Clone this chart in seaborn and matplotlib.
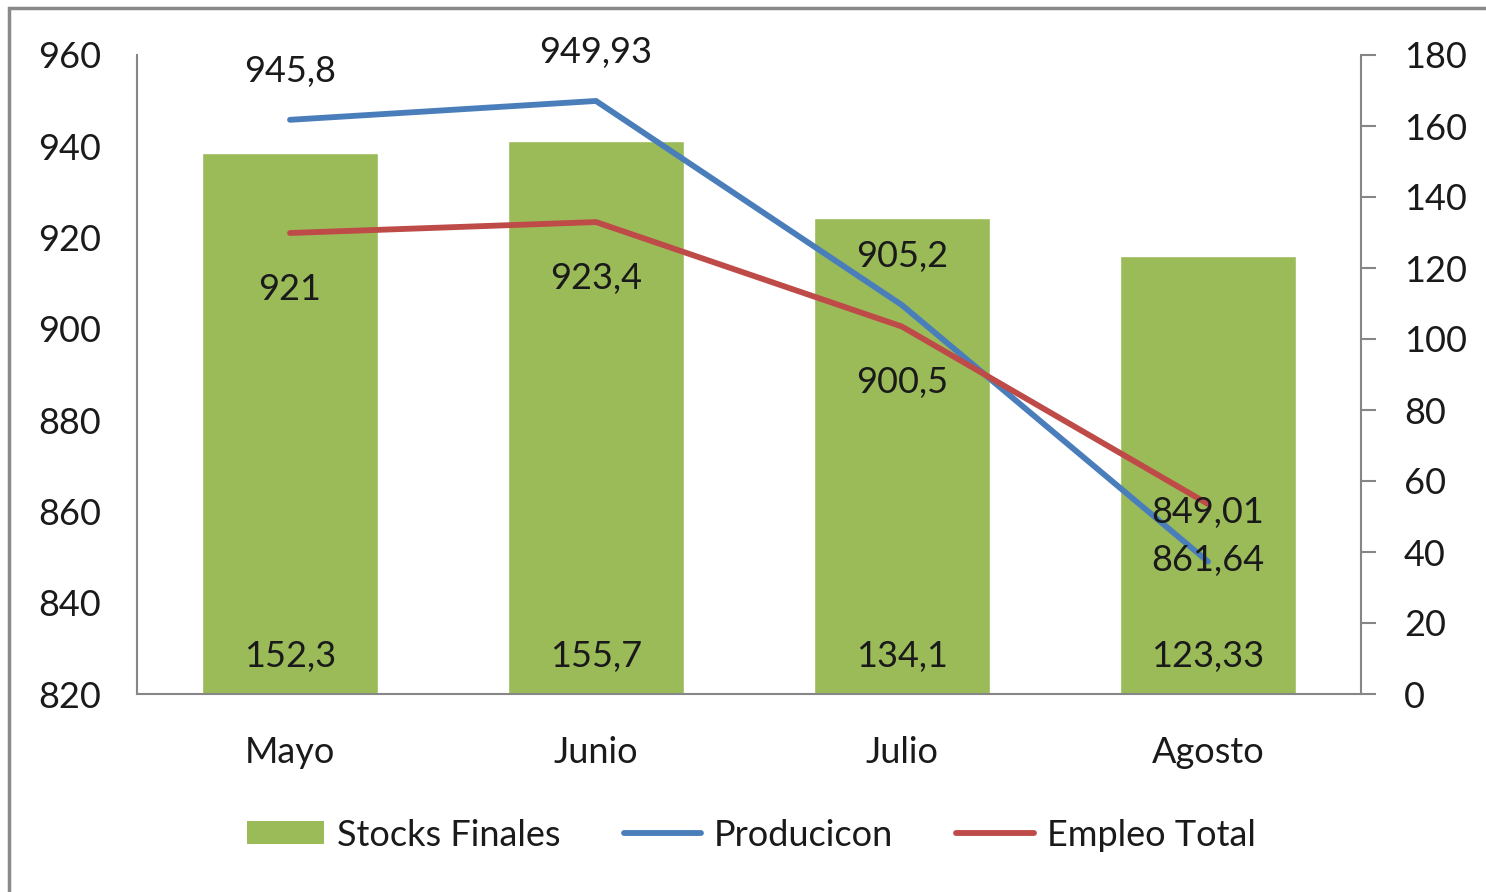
import matplotlib
matplotlib.use("Agg")
import matplotlib.pyplot as plt
import seaborn as sns
import numpy as np
import pandas as pd
from matplotlib.patches import Rectangle, Patch
from matplotlib.lines import Line2D

months = ["Mayo", "Junio", "Julio", "Agosto"]
stocks = [152.3, 155.7, 134.1, 123.33]
produccion = [945.8, 949.93, 905.2, 849.01]
empleo = [921, 923.4, 900.5, 861.64]
stock_labels = ["152,3", "155,7", "134,1", "123,33"]
prod_labels = ["945,8", "949,93", "905,2", "849,01"]
empleo_labels = ["921", "923,4", "900,5", "861,64"]
left_ticks = [820, 840, 860, 880, 900, 920, 940, 960]
right_ticks = [0, 20, 40, 60, 80, 100, 120, 140, 160, 180]

GREEN = "#9BBB59"
BLUE = "#4A7EBB"
RED = "#BE4B48"
AXC = "#868686"
TXT = "#1a1a1a"

sns.set_style("white")
plt.rcParams['font.family'] = ['Lato', 'DejaVu Sans']
FS = 26

fig = plt.figure(figsize=(14.86, 8.92), dpi=100)
ax = fig.add_axes([137/1486, 198/892, (1361-137)/1486, (694-55)/892])
ax2 = ax.twinx()

# Bars on the right-hand scale (drawn on the base axes so lines sit on top)
df = pd.DataFrame({"mes": months, "stocks": stocks})
sns.barplot(data=df, x="mes", y="stocks", color=GREEN, saturation=1, width=0.572, ax=ax, zorder=1)
ax.set_ylim(0, 180)
ax.set_xlim(-0.5, 3.5)
ax.set_xlabel("")
ax.set_ylabel("")
for i, lab in enumerate(stock_labels):
    ax.annotate(lab, (i, 0), xytext=(0, 19.5), textcoords="offset points",
                ha="center", va="baseline", fontsize=FS, color=TXT)

# Lines on the left-hand scale
xs = np.arange(len(months))
sns.lineplot(x=xs, y=produccion, color=BLUE, linewidth=4.2, ax=ax2, solid_capstyle="round")
sns.lineplot(x=xs, y=empleo, color=RED, linewidth=4.2, ax=ax2, solid_capstyle="round")
ax2.set_ylim(820, 960)
ax2.set_xlim(-0.5, 3.5)
ax2.set_ylabel("")
for i, lab in enumerate(prod_labels):
    ax2.annotate(lab, (i, produccion[i]), xytext=(0, 27.5), textcoords="offset points",
                 ha="center", va="baseline", fontsize=FS, color=TXT)
for i, lab in enumerate(empleo_labels):
    ax2.annotate(lab, (i, empleo[i]), xytext=(0, -48), textcoords="offset points",
                 ha="center", va="baseline", fontsize=FS, color=TXT)

# Axis placement: base axes ticks on right, twin ticks on left
ax.yaxis.tick_right()
ax.yaxis.set_label_position("right")
ax.set_yticks(right_ticks)
ax.set_yticklabels([str(t) for t in right_ticks], fontsize=FS, color=TXT)
ax.tick_params(axis="y", which="both", left=False, right=True, labelleft=False, labelright=True,
               length=11, width=1.5, color=AXC, pad=20)
ax.tick_params(axis="x", length=0, pad=30, labelsize=FS, labelcolor=TXT)

ax2.yaxis.tick_left()
ax2.yaxis.set_label_position("left")
ax2.set_yticks(left_ticks)
ax2.set_yticklabels([str(t) for t in left_ticks], fontsize=FS, color=TXT)
ax2.tick_params(axis="y", left=False, right=False, labelleft=True, labelright=False, length=0, pad=26)

for s in ["top", "left"]:
    ax.spines[s].set_visible(False)
for s in ["right", "bottom"]:
    ax.spines[s].set_visible(True)
    ax.spines[s].set_color(AXC)
    ax.spines[s].set_linewidth(1.5)
for s in ["top", "right", "bottom"]:
    ax2.spines[s].set_visible(False)
ax2.spines["left"].set_visible(True)
ax2.spines["left"].set_color(AXC)
ax2.spines["left"].set_linewidth(1.5)

handles = [Patch(facecolor=GREEN, edgecolor="none"),
           Line2D([0], [0], color=BLUE, linewidth=4.2, solid_capstyle="round"),
           Line2D([0], [0], color=RED, linewidth=4.2, solid_capstyle="round")]
leg = fig.legend(handles, ["Stocks Finales", "Producicon", "Empleo Total"],
                 loc="center", bbox_to_anchor=(751/1486, 1 - 835/892), ncol=3,
                 frameon=False, fontsize=FS, handlelength=2.15, handleheight=0.6,
                 handletextpad=0.35, columnspacing=1.75)
for t in leg.get_texts():
    t.set_color(TXT)

fig.patches.append(Rectangle((9/1486, -0.1), 1.2, 1.1 - 8/892, transform=fig.transFigure,
                             fill=False, edgecolor="#8a8a8a", linewidth=2.5))

fig.savefig("out.png", dpi=100)
